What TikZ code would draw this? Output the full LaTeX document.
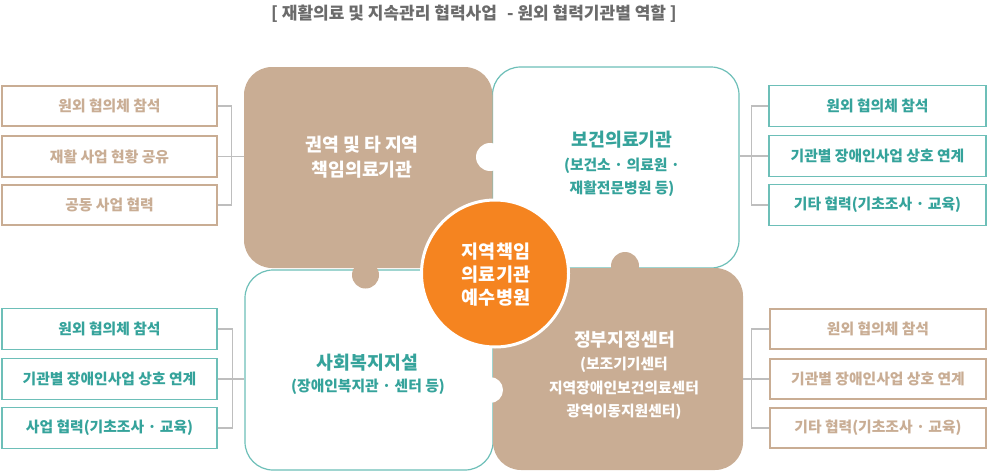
\documentclass[tikz,border=0pt]{standalone}
\usepackage{fontspec}
\setmainfont{Noto Sans CJK KR}
\definecolor{tanc}{HTML}{C9AD94}
\definecolor{tealc}{HTML}{6DBFB8}
\definecolor{tealtxt}{HTML}{35A39B}
\definecolor{orangec}{HTML}{F58420}
\definecolor{grayline}{HTML}{BEBEBE}
\definecolor{titlec}{HTML}{6B6B6B}
\begin{document}
\begin{tikzpicture}[x=1pt,y=-1pt,
  sidebox/.style={rectangle, line width=1.2pt, fill=white, inner sep=0pt,
    font=\fontsize{14.8}{17}\selectfont\bfseries},
  tanbox/.style={sidebox, draw=tanc, text=tanc},
  tealbox/.style={sidebox, draw=tealc, text=tealtxt},
  piece/.style={rectangle, rounded corners=28pt, inner sep=0pt},
  whitepiece/.style={piece, fill=white, draw=tealc, line width=1.2pt},
  tanpiece/.style={piece, fill=tanc},
  link/.style={draw=grayline, line width=1.2pt},
  bigtxt/.style={font=\fontsize{18.3}{25}\selectfont\bfseries, align=center, inner sep=0pt},
  subtxt/.style={font=\fontsize{14.8}{23.5}\selectfont\bfseries, align=center, inner sep=0pt}
]
\useasboundingbox (0,0) rectangle (987,471);

% title
\node[font=\fontsize{17}{20}\selectfont\bfseries, text=titlec, inner sep=0pt] (title) at (474,14)
  {[ 재활의료 및 지속관리 협력사업\hspace{0.6em}- 원외 협력기관별 역할 ]};

% puzzle pieces
\node[whitepiece, minimum width=246.5pt, minimum height=201pt] (TR) at (615.75,167.5) {};
\node[whitepiece, minimum width=248pt, minimum height=200pt] (BL) at (369,370) {};
\node[tanpiece, minimum width=248.5pt, minimum height=201pt] (TL) at (368.25,167.5) {};
\node[tanpiece, minimum width=250pt, minimum height=202pt] (BR) at (618,369) {};

% knobs
\fill[tanc] (365.5,275) circle[radius=13.5pt];
\fill[tanc] (625,266) circle[radius=14pt];
\fill[white] (490,157) circle[radius=14pt];
\fill[white] (490,390) circle[radius=13pt];

% centre circle
\node[circle, fill=orangec, draw=white, line width=3pt, minimum size=147pt, inner sep=0pt] (C) at (495,273.5) {};
\node[bigtxt, text=white, font=\fontsize{18.5}{23}\selectfont\bfseries] (Ct) at (496,275) {지역책임\\의료기관\\예수병원};

% piece texts
\node[bigtxt, text=white] (TLt) at (362,157.5) {권역 및 타 지역\\책임의료기관};
\node[bigtxt, text=tealtxt] (TRt) at (622,140) {보건의료기관};
\node[subtxt, text=tealtxt] (TRs) at (622,177.5) {(보건소 · 의료원 ·\\재활전문병원 등)};
\node[bigtxt, text=tealtxt] (BLt) at (367.5,363) {사회복지지설};
\node[subtxt, text=tealtxt] (BLs) at (368,387) {(장애인복지관 · 센터 등)};
\node[bigtxt, text=white] (BRt) at (624.5,340) {정부지정센터};
\node[subtxt, text=white] (BRs) at (624,388.5) {(보조기기센터\\지역장애인보건의료센터\\광역이동지원센터)};

% left top boxes
\node[tanbox, minimum width=215pt, minimum height=40pt] (L1) at (109.5,106) {원외 협의체 참석};
\node[tanbox, minimum width=215pt, minimum height=41pt] (L2) at (109.5,156.5) {재활 사업 현황 공유};
\node[tanbox, minimum width=215pt, minimum height=40pt] (L3) at (109.5,205) {공동 사업 협력};
% right top boxes
\node[tealbox, minimum width=217pt, minimum height=41pt] (R1) at (877.5,106) {원외 협의체 참석};
\node[tealbox, minimum width=217pt, minimum height=41pt] (R2) at (877.5,156) {기관별 장애인사업 상호 연계};
\node[tealbox, minimum width=217pt, minimum height=41pt] (R3) at (877.5,205) {기타 협력(기초조사 · 교육)};
% left bottom boxes
\node[tealbox, minimum width=215pt, minimum height=41pt] (LB1) at (109.5,329) {원외 협의체 참석};
\node[tealbox, minimum width=215pt, minimum height=41pt] (LB2) at (109.5,379) {기관별 장애인사업 상호 연계};
\node[tealbox, minimum width=215pt, minimum height=41pt] (LB3) at (109.5,428) {사업 협력(기초조사 · 교육)};
% right bottom boxes
\node[tanbox, minimum width=216pt, minimum height=40pt] (RB1) at (878,329) {원외 협의체 참석};
\node[tanbox, minimum width=216pt, minimum height=40pt] (RB2) at (878,379) {기관별 장애인사업 상호 연계};
\node[tanbox, minimum width=216pt, minimum height=40pt] (RB3) at (878,428) {기타 협력(기초조사 · 교육)};

% connectors
\draw[link] (L1.east) -- ++(14,0) |- (L3.east);
\draw[link] (L2.east) -- (L2.east -| TL.west);
\draw[link] (R1.west) -- ++(-17,0) |- (R3.west);
\draw[link] (R2.west) -- (R2.west -| TR.east);
\draw[link] (LB1.east) -- ++(15,0) |- (LB3.east);
\draw[link] (LB2.east) -- (LB2.east -| BL.west);
\draw[link] (RB1.west) -- ++(-18,0) |- (RB3.west);
\draw[link] (RB2.west) -- (RB2.west -| BR.east);
\end{tikzpicture}
\end{document}
